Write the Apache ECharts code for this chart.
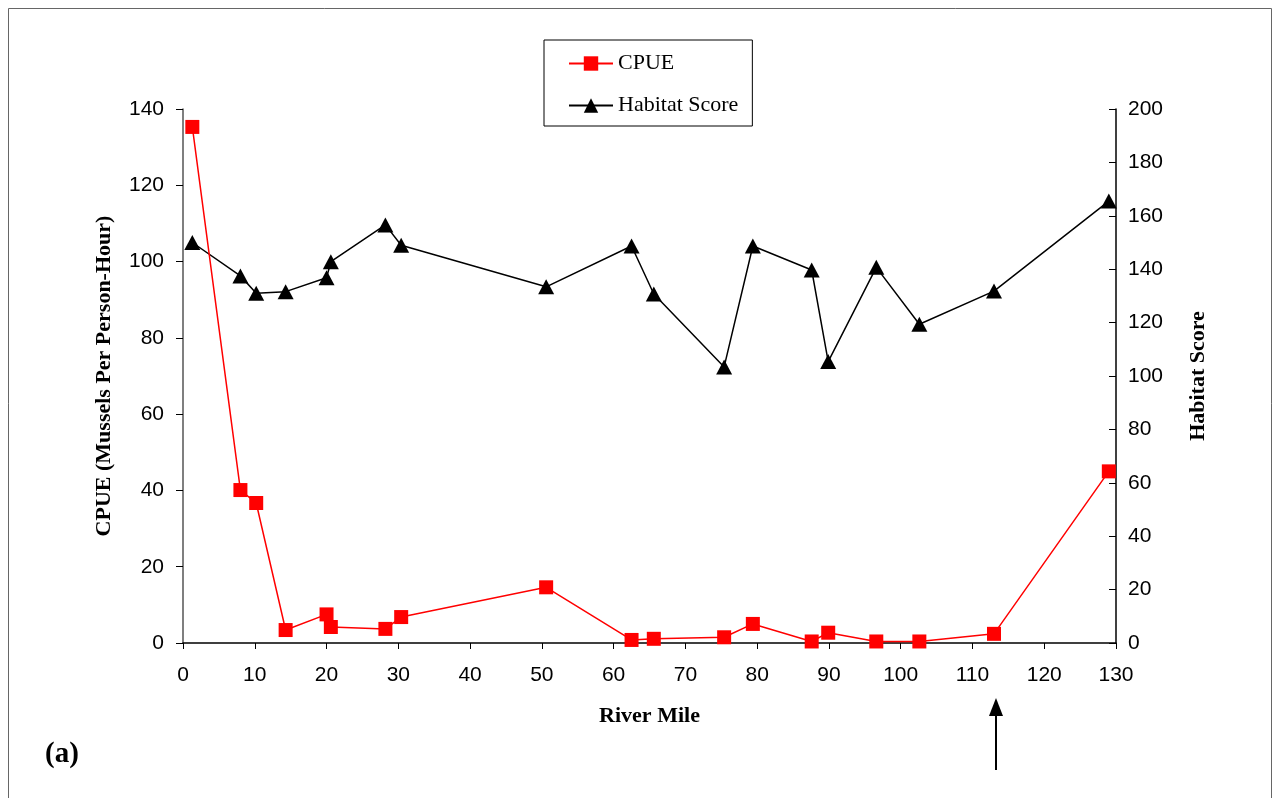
<!DOCTYPE html>
<html><head><meta charset="utf-8">
<script src="https://cdn.jsdelivr.net/npm/echarts@6/dist/echarts.min.js"></script>
<style>html,body{margin:0;padding:0;background:#fff}#c{width:1279px;height:798px}</style>
</head><body><div id="c"></div>
<script>
var riverMile = [1.3, 8.0, 10.2, 14.3, 20.0, 20.6, 28.2, 30.4, 50.6, 62.5, 65.6, 75.4, 79.4, 87.6, 89.9, 96.6, 102.6, 113.0, 129.0];
var cpue = [135.3, 40.1, 36.7, 3.4, 7.5, 4.2, 3.7, 6.8, 14.6, 0.8, 1.1, 1.5, 5.0, 0.4, 2.7, 0.4, 0.4, 2.4, 45.0];
var habitat = [150, 137.5, 131, 131.6, 136.8, 142.8, 156.6, 149, 133.4, 148.7, 130.7, 103.4, 148.7, 139.7, 105.4, 140.7, 119.4, 131.8, 165.5];
var xTicks = [0, 130, 10];
var leftTicks = [0, 140, 20];
var rightTicks = [0, 200, 20];
var arrowMile = 113.0;

function pairs(xs, ys){ return xs.map(function(x,i){ return [x, ys[i]]; }); }

var serif = '"Liberation Serif", "Times New Roman", serif';
var sans = '"Liberation Sans", Arial, sans-serif';

var chart = echarts.init(document.getElementById('c'), null, {renderer:'canvas'});
chart.setOption({
  animation: false,
  backgroundColor: '#fff',
  grid: {left: 183, right: 163, top: 109, bottom: 155},
  legend: {
    orient: 'vertical', left: 544, top: 40,
    padding: [12, 14, 9, 24], itemGap: 19,
    itemWidth: 44, itemHeight: 18,
    borderColor: '#000', borderWidth: 1,
    textStyle: {fontFamily: serif, fontSize: 22, color: '#000', lineHeight: 23},
    data: ['CPUE', 'Habitat Score']
  },
  xAxis: {
    type: 'value', min: xTicks[0], max: xTicks[1], interval: xTicks[2],
    name: 'River Mile', nameLocation: 'middle', nameGap: 62,
    nameTextStyle: {fontFamily: serif, fontSize: 22, fontWeight: 'bold', color: '#000'},
    axisLine: {show: true, onZero: false, lineStyle: {color: '#000', width: 1.5}},
    axisTick: {show: true, inside: false, length: 6, lineStyle: {color: '#000'}},
    axisLabel: {margin: 22, fontFamily: sans, fontSize: 21, color: '#000'},
    splitLine: {show: false}
  },
  yAxis: [{
    type: 'value', position: 'left', min: leftTicks[0], max: leftTicks[1], interval: leftTicks[2],
    name: 'CPUE (Mussels Per Person-Hour)', nameLocation: 'middle', nameGap: 68,
    nameTextStyle: {fontFamily: serif, fontSize: 22, fontWeight: 'bold', color: '#000'},
    axisLine: {show: true, lineStyle: {color: '#555', width: 1.5}},
    axisTick: {show: true, inside: false, length: 7, lineStyle: {color: '#000'}},
    axisLabel: {margin: 19, fontFamily: sans, fontSize: 21, color: '#000'},
    splitLine: {show: false}
  }, {
    type: 'value', position: 'right', min: rightTicks[0], max: rightTicks[1], interval: rightTicks[2],
    name: 'Habitat Score', nameLocation: 'middle', nameGap: 71, nameRotate: 90,
    nameTextStyle: {fontFamily: serif, fontSize: 22, fontWeight: 'bold', color: '#000'},
    axisLine: {show: true, lineStyle: {color: '#000', width: 1.5}},
    axisTick: {show: true, inside: true, length: 7, lineStyle: {color: '#000'}},
    axisLabel: {margin: 12, fontFamily: sans, fontSize: 21, color: '#000'},
    splitLine: {show: false}
  }],
  series: [{
    name: 'CPUE', type: 'line', yAxisIndex: 0,
    data: pairs(riverMile, cpue),
    symbol: 'rect', symbolSize: 14,
    itemStyle: {color: '#ff0000'},
    lineStyle: {color: '#ff0000', width: 1.5},
    z: 3
  }, {
    name: 'Habitat Score', type: 'line', yAxisIndex: 1,
    data: pairs(riverMile, habitat),
    symbol: 'triangle', symbolSize: [16, 15],
    itemStyle: {color: '#000'},
    lineStyle: {color: '#000', width: 1.5},
    z: 2
  }]
});

var ax = chart.convertToPixel({xAxisIndex: 0}, arrowMile) + 2;
chart.setOption({
  graphic: [
    {type: 'rect', shape: {x: 8.5, y: 8.5, width: 1263, height: 820}, style: {fill: 'none', stroke: '#666', lineWidth: 1}, silent: true},
    {type: 'text', left: 45, top: 740, style: {text: '(a)', fontFamily: serif, fontSize: 29, fontWeight: 'bold', fill: '#000'}},
    {type: 'line', shape: {x1: ax, y1: 770, x2: ax, y2: 712}, style: {stroke: '#000', lineWidth: 2}},
    {type: 'polygon', shape: {points: [[ax, 698], [ax - 7, 716], [ax + 7, 716]]}, style: {fill: '#000'}}
  ]
});
</script>
</body></html>
